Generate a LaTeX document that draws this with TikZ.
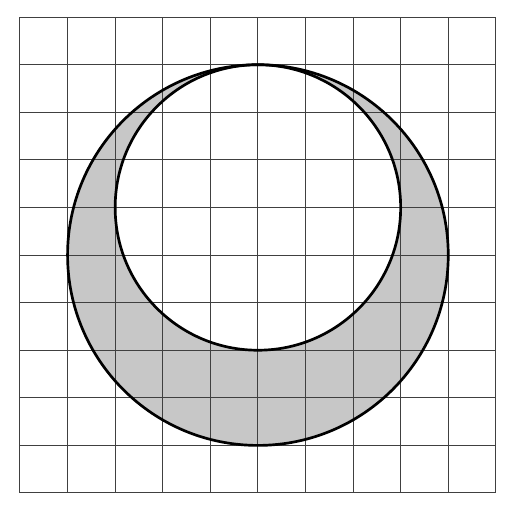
\documentclass[tikz,border=0pt]{standalone}
\usepackage{tikz}

\begin{document}
\begin{tikzpicture}
            \useasboundingbox (-0.42,-0.40) rectangle (10.76,10.36);
            \fill[black!22] (5,5) circle (4);
            \fill[white] (5,6) circle (3);
            \foreach \i in {0,...,10}{
                \draw[black!75, line width=0.6pt] (\i,0) -- (\i,10);
                \draw[black!75, line width=0.6pt] (0,\i) -- (10,\i);
            }
            \draw[line width=1.6pt] (5,5) circle (4);
            \draw[line width=1.6pt] (5,6) circle (3);
        \end{tikzpicture}
\end{document}
